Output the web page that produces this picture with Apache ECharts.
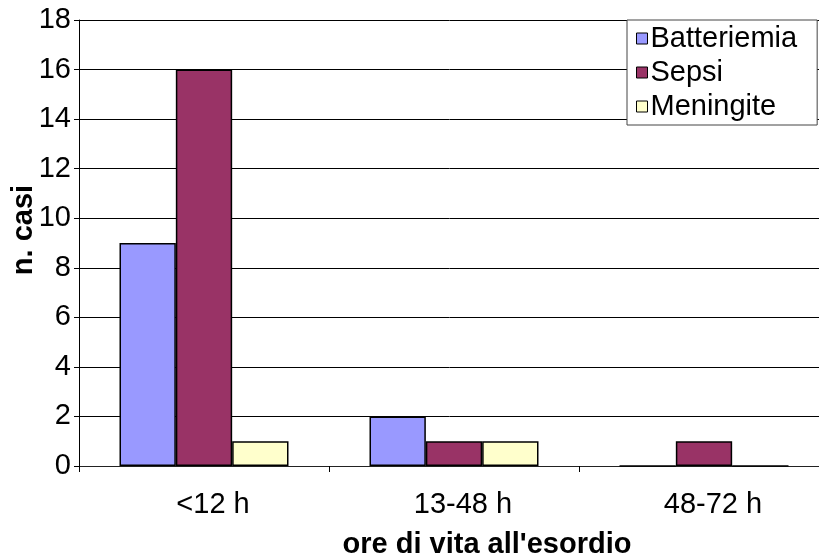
<!DOCTYPE html>
<html>
<head>
<meta charset="utf-8">
<script src="https://cdn.jsdelivr.net/npm/echarts@6/dist/echarts.min.js"></script>
<style>
  html, body { margin: 0; padding: 0; background: #fff; }
  #chart { width: 819px; height: 553px; }
</style>
</head>
<body>
<div id="chart"></div>
<script>
// Age at onset groups (hours of life)
const categories = ['<12 h', '13-48 h', '48-72 h'];
// Number of cases per diagnosis
const batteriemia = [9, 2, 0];
const sepsi = [16, 1, 1];
const meningite = [1, 1, 0];
const seriesNames = ['Batteriemia', 'Sepsi', 'Meningite'];
const yTicks = { min: 0, max: 18, interval: 2 };

const FONT = '"Liberation Sans", Arial, sans-serif';
const colors = ['#9999FF', '#993366', '#FFFFCC'];
const values = [batteriemia, sepsi, meningite];

const chart = echarts.init(document.getElementById('chart'), null, { renderer: 'canvas' });

chart.setOption({
  animation: false,
  backgroundColor: '#ffffff',
  textStyle: { fontFamily: FONT },
  grid: { left: 79, top: 20, width: 750, height: 446, containLabel: false, outerBoundsMode: 'none' },
  legend: {
    orient: 'vertical',
    left: 627,
    top: 20,
    data: seriesNames,
    itemWidth: 11,
    itemHeight: 11,
    itemGap: 5,
    padding: [4, 20, 4, 9],
    borderColor: '#444',
    borderWidth: 1,
    backgroundColor: '#fff',
    textStyle: { fontFamily: FONT, fontSize: 29, color: '#000', padding: [0, 0, 0, -2] },
    icon: 'rect',
    itemStyle: { borderColor: '#000', borderWidth: 1 }
  },
  xAxis: {
    type: 'category',
    data: categories,
    name: "ore di vita all'esordio",
    nameLocation: 'middle',
    nameGap: 64,
    nameTextStyle: { fontFamily: FONT, fontSize: 29, fontWeight: 'bold', color: '#000', padding: [0, 0, 0, 66] },
    axisLine: { lineStyle: { color: '#222', width: 1 } },
    axisTick: { show: true, length: 6, lineStyle: { color: '#000' } },
    axisLabel: { fontFamily: FONT, fontSize: 29, color: '#000', margin: 24, padding: [0, 0, 0, 18] },
    splitLine: { show: false }
  },
  yAxis: {
    type: 'value',
    min: yTicks.min,
    max: yTicks.max,
    interval: yTicks.interval,
    name: 'n. casi',
    nameLocation: 'middle',
    nameRotate: 90,
    nameGap: 41,
    nameMoveOverlap: false,
    nameTextStyle: { fontFamily: FONT, fontSize: 29, fontWeight: 'bold', color: '#000', padding: [0, 0, 0, 26] },
    axisLine: { show: true, lineStyle: { color: '#000', width: 1 } },
    axisTick: { show: true, length: 5, lineStyle: { color: '#000' } },
    axisLabel: { fontFamily: FONT, fontSize: 29, color: '#000', margin: 8 },
    splitLine: { show: true, lineStyle: { color: '#000', width: 1 } }
  },
  series: seriesNames.map((name, i) => ({
    name,
    type: 'bar',
    data: values[i],
    barGap: '0%',
    barCategoryGap: '32.4%',
    itemStyle: { color: colors[i], borderColor: '#000', borderWidth: 1.5 }
  }))
});
</script>
</body>
</html>
